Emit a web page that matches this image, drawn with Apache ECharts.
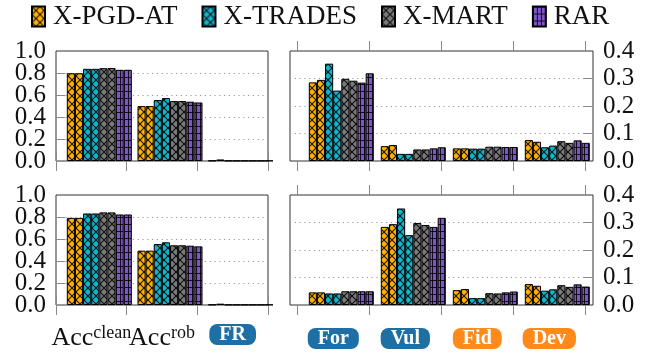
<!DOCTYPE html>
<html>
<head>
<meta charset="utf-8">
<script src="https://cdn.jsdelivr.net/npm/echarts@6.0.0/dist/echarts.min.js"></script>
<style>
  html, body { margin: 0; padding: 0; background: #fff; }
  #chart { width: 650px; height: 352px; }
</style>
</head>
<body>
<div id="chart"></div>
<script>
// Methods (each drawn as a pair of bars) and the two category sets
const methods = ['X-PGD-AT', 'X-TRADES', 'X-MART', 'RAR'];
const metricCats = ['Acc^clean', 'Acc^rob', 'FR'];
const explainCats = ['For', 'Vul', 'Fid', 'Dev'];

// Bar values per category, ordered:
// PGD-AT a, PGD-AT b, TRADES a, TRADES b, MART a, MART b, RAR a, RAR b
const topAccClean = [0.798, 0.798, 0.838, 0.838, 0.844, 0.845, 0.829, 0.829];
const topAccRob   = [0.499, 0.499, 0.554, 0.572, 0.545, 0.545, 0.539, 0.532];
const topFR       = [0.004, 0.014, 0.003, 0.003, 0.003, 0.003, 0.003, 0.003];
const topFor      = [0.286, 0.295, 0.354, 0.256, 0.299, 0.292, 0.285, 0.319];
const topVul      = [0.054, 0.058, 0.026, 0.026, 0.042, 0.042, 0.046, 0.050];
const topFid      = [0.046, 0.046, 0.045, 0.045, 0.052, 0.052, 0.051, 0.051];
const topDev      = [0.076, 0.070, 0.050, 0.056, 0.072, 0.066, 0.075, 0.066];

const botAccClean = [0.792, 0.792, 0.832, 0.832, 0.842, 0.842, 0.823, 0.823];
const botAccRob   = [0.494, 0.494, 0.554, 0.570, 0.543, 0.543, 0.539, 0.533];
const botFR       = [0.004, 0.012, 0.003, 0.003, 0.003, 0.003, 0.003, 0.003];
const botFor      = [0.046, 0.046, 0.042, 0.042, 0.050, 0.050, 0.050, 0.050];
const botVul      = [0.284, 0.294, 0.351, 0.254, 0.298, 0.291, 0.284, 0.317];
const botFid      = [0.054, 0.058, 0.025, 0.025, 0.043, 0.042, 0.046, 0.049];
const botDev      = [0.076, 0.070, 0.052, 0.057, 0.072, 0.066, 0.075, 0.067];

// Value ranges of the two y scales
const metricMax = 1.0, metricStep = 0.2;
const explainMax = 0.4, explainStep = 0.1;

const FONT = "'Liberation Serif', 'Times New Roman', serif";
const INK = '#111';
const TICK = '#8a8a8a';

// Hatched fills for the bars, built as small repeating canvas tiles
function hatch(bg, kind) {
  const c = document.createElement('canvas');
  const g = c.getContext('2d');
  if (kind === 'grid') {
    c.width = 4; c.height = 7;
    g.fillStyle = bg; g.fillRect(0, 0, 4, 7);
    g.strokeStyle = 'rgba(0,0,0,0.85)'; g.lineWidth = 1;
    g.beginPath();
    g.moveTo(0.5, 0); g.lineTo(0.5, 7);
    g.moveTo(0, 0.5); g.lineTo(4, 0.5);
    g.stroke();
  } else {
    c.width = 8; c.height = 8;
    g.fillStyle = bg; g.fillRect(0, 0, 8, 8);
    g.strokeStyle = 'rgba(0,0,0,0.9)'; g.lineWidth = 1.1;
    g.beginPath();
    g.moveTo(-1, -1); g.lineTo(9, 9);
    g.moveTo(9, -1); g.lineTo(-1, 9);
    g.stroke();
  }
  return { image: c, repeat: 'repeat' };
}
const fills = [
  hatch('#FFB000', 'cross'),
  hatch('#12B6CC', 'cross'),
  hatch('#7A7A7A', 'cross'),
  hatch('#7F56C9', 'grid')
];

const rows = [
  { top: 51, metric: [topAccClean, topAccRob, topFR], explain: [topFor, topVul, topFid, topDev], labels: false },
  { top: 195, metric: [botAccClean, botAccRob, botFR], explain: [botFor, botVul, botFid, botDev], labels: true }
];

const grids = [], xAxes = [], yAxes = [], series = [];
const H = 110;

const boxStyle = bg => ({
  fontFamily: FONT, fontSize: 20, fontWeight: 'bold', color: '#fff',
  backgroundColor: bg, borderRadius: 8, padding: [1, 10, 0, 10]
});
const numLabel = { fontFamily: FONT, fontSize: 25, color: INK, margin: 10 };

function tickAxis(gridIndex, cats, position, labelOpt) {
  return {
    type: 'category', gridIndex, data: cats, position,
    axisLine: { show: false },
    axisTick: { show: true, length: 10, lineStyle: { color: TICK, width: 1 } },
    axisLabel: labelOpt || { show: false },
    splitLine: { show: false }
  };
}
function hiddenCat(gridIndex, cats) {
  return { type: 'category', gridIndex, data: cats, show: false };
}
function hiddenVal(gridIndex, max) {
  return { type: 'value', gridIndex, min: 0, max, show: false, splitLine: { show: false } };
}
// Inner ticks, dotted grid lines and labels of the inner values
function innerScale(gridIndex, max, step, position) {
  return {
    type: 'value', gridIndex, min: 0, max, interval: step, position,
    axisLine: { show: false },
    axisTick: { show: true, inside: true, length: 9, lineStyle: { color: TICK } },
    axisLabel: Object.assign({
      showMinLabel: false, showMaxLabel: false,
      formatter: v => v.toFixed(1)
    }, numLabel),
    splitLine: {
      show: true, showMinLine: false, showMaxLine: false,
      lineStyle: { color: '#9a9a9a', type: [1.2, 3.6], width: 1 }
    }
  };
}
// Labels of the two end values of the same scale
function endScale(gridIndex, max, position) {
  return {
    type: 'value', gridIndex, min: 0, max, interval: max, position,
    axisLine: { show: false },
    axisTick: { show: false },
    axisLabel: Object.assign({ formatter: v => v.toFixed(1) }, numLabel),
    splitLine: { show: false }
  };
}

const metricLabels = {
  show: true, margin: 19, interval: 0,
  formatter: v => {
    if (v === 'Acc^clean') return '{acc|Acc}{sup|clean}';
    if (v === 'Acc^rob') return '{acc|Acc}{sup|rob}';
    return '{blue|' + v + '}';
  },
  rich: {
    acc: { fontFamily: FONT, fontSize: 26, color: INK },
    sup: { fontFamily: FONT, fontSize: 18, color: INK, padding: [0, 0, 10, 0] },
    blue: boxStyle('#1E6FA3')
  }
};
const explainLabels = {
  show: true, margin: 23, interval: 0,
  formatter: v => (v === 'For' || v === 'Vul') ? '{blue|' + v + '}' : '{orange|' + v + '}',
  rich: { blue: boxStyle('#1E6FA3'), orange: boxStyle('#FF8A1C') }
};

function addBars(xi, yi, valueArrays, gapPct) {
  for (let j = 0; j < 8; j++) {
    const m = Math.floor(j / 2);
    series.push({
      type: 'bar', name: methods[m],
      xAxisIndex: xi, yAxisIndex: yi,
      data: valueArrays.map(arr => arr[j]),
      barGap: '0%', barCategoryGap: gapPct,
      itemStyle: { color: fills[m], borderColor: '#000', borderWidth: 1 },
      emphasis: { disabled: true },
      animation: false
    });
  }
}

rows.forEach(row => {
  const t = row.top;
  // left panel: frame with y scale and ticks, plus a data grid shifted right
  const gFrameL = grids.length;
  grids.push({ left: 56, top: t, width: 212, height: H, show: true, borderColor: '#333', borderWidth: 1, backgroundColor: 'transparent', outerBoundsMode: 'none' });
  const gDataL = grids.length;
  grids.push({ left: 64, top: t, width: 212, height: H, outerBoundsMode: 'none' });
  // right panel: frame, tick grid, data grid
  const gFrameR = grids.length;
  grids.push({ left: 290, top: t, width: 303, height: H, show: true, borderColor: '#333', borderWidth: 1, backgroundColor: 'transparent', outerBoundsMode: 'none' });
  const gTickR = grids.length;
  grids.push({ left: 297.3, top: t, width: 288, height: H, outerBoundsMode: 'none' });
  const gDataR = grids.length;
  grids.push({ left: 305.3, top: t, width: 288, height: H, outerBoundsMode: 'none' });

  xAxes.push(tickAxis(gFrameL, metricCats, 'bottom', row.labels ? metricLabels : null));
  yAxes.push(innerScale(gFrameL, metricMax, metricStep, 'left'));
  xAxes.push(tickAxis(gFrameL, metricCats, 'top'));
  yAxes.push(endScale(gFrameL, metricMax, 'left'));

  const xiDataL = xAxes.length;
  xAxes.push(hiddenCat(gDataL, metricCats));
  const yiDataL = yAxes.length;
  yAxes.push(hiddenVal(gDataL, metricMax));

  xAxes.push(hiddenCat(gFrameR, explainCats));
  yAxes.push(innerScale(gFrameR, explainMax, explainStep, 'right'));
  yAxes.push(endScale(gFrameR, explainMax, 'right'));

  xAxes.push(tickAxis(gTickR, explainCats, 'bottom', row.labels ? explainLabels : null));
  yAxes.push(hiddenVal(gTickR, explainMax));
  xAxes.push(tickAxis(gTickR, explainCats, 'top'));

  const xiDataR = xAxes.length;
  xAxes.push(hiddenCat(gDataR, explainCats));
  const yiDataR = yAxes.length;
  yAxes.push(hiddenVal(gDataR, explainMax));

  addBars(xiDataL, yiDataL, row.metric, '8%');
  addBars(xiDataR, yiDataR, row.explain, '9.7%');
});

const chart = echarts.init(document.getElementById('chart'), null, { renderer: 'canvas' });
chart.setOption({
  animation: false,
  backgroundColor: '#fff',
  legend: {
    data: methods, left: 31, top: 3, padding: 0,
    icon: 'rect', itemWidth: 13, itemHeight: 20, itemGap: 24,
    formatter: name => '{t|' + name + '}',
    textStyle: {
      fontFamily: FONT, fontSize: 27, color: INK,
      rich: { t: { fontFamily: FONT, fontSize: 27, color: INK, padding: [0, 0, 0, 3] } }
    },
    selectedMode: false
  },
  grid: grids,
  xAxis: xAxes,
  yAxis: yAxes,
  series
});
</script>
</body>
</html>
